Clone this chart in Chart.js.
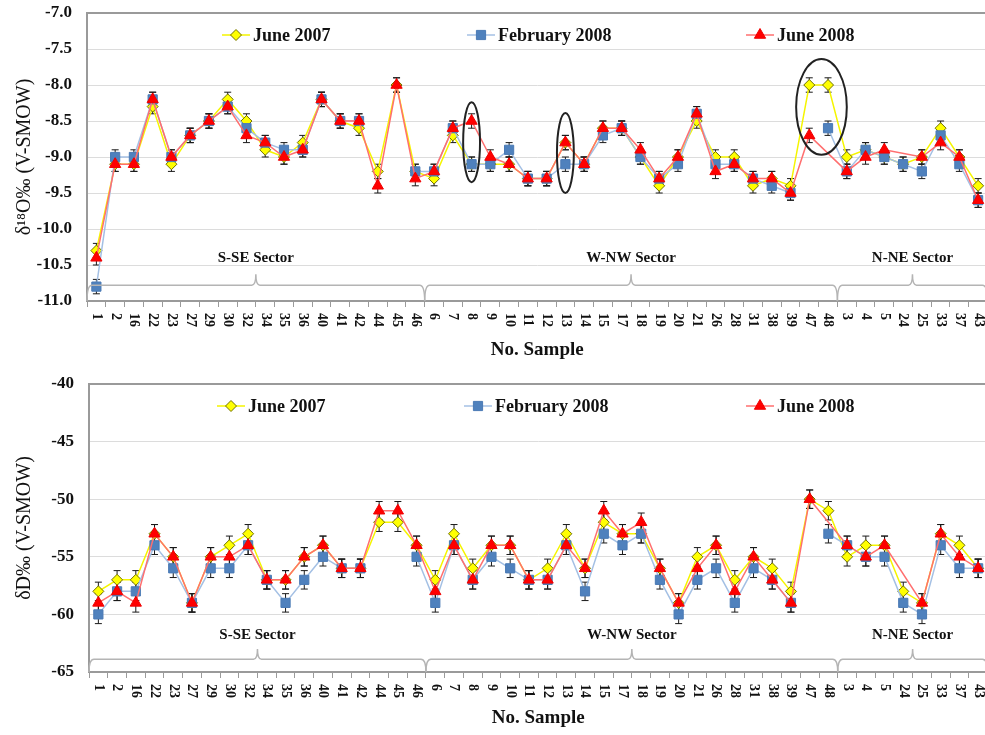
<!DOCTYPE html>
<html lang="en">
<head>
  <meta charset="UTF-8">
  <title>Isotopic composition by sample</title>
  <script src="https://cdn.jsdelivr.net/npm/chart.js"></script>
  <style>
    html, body { margin: 0; padding: 0; background: #fff; overflow: hidden; }
    .panel { position: absolute; left: 0; width: 995px; }
    #topPanel { top: 0; height: 367px; }
    #bottomPanel { top: 367px; height: 368px; }
  </style>
</head>
<body>
  <div id="topPanel" class="panel"><canvas id="o18Chart"></canvas></div>
  <div id="bottomPanel" class="panel"><canvas id="dChart"></canvas></div>

  <script>
    // Samples in the order they appear on the x axis
    const samples = ['1', '2', '16', '22', '23', '27', '29', '30', '32', '34', '35', '36', '40', '41', '42', '44', '45', '46',
      '6', '7', '8', '9', '10', '11', '12', '13', '14', '15', '17', '18', '19', '20', '21', '26', '28', '31', '38', '39', '47', '48',
      '3', '4', '5', '24', '25', '33', '37', '43'];
    const seriesNames = ['June 2007', 'February 2008', 'June 2008'];

    // delta 18O (permil V-SMOW)
    const o18Jun2007 = [-10.3, -9.1, -9.1, -8.3, -9.1, -8.7, -8.5, -8.2, -8.5, -8.9, -9.0, -8.8, -8.2, -8.5, -8.6, -9.2, -8.0, -9.2,
      -9.3, -8.7, -9.1, -9.1, -9.1, -9.3, -9.3, -8.8, -9.1, -8.6, -8.6, -9.0, -9.4, -9.0, -8.5, -9.0, -9.0, -9.4, -9.3, -9.4, -8.0, -8.0,
      -9.0, -8.9, -9.0, -9.1, -9.0, -8.6, -9.0, -9.4];
    const o18Feb2008 = [-10.8, -9.0, -9.0, -8.2, -9.0, -8.7, -8.5, -8.3, -8.6, -8.8, -8.9, -8.9, -8.2, -8.5, -8.5, null, null, -9.2,
      -9.2, -8.6, -9.1, -9.1, -8.9, -9.3, -9.3, -9.1, -9.1, -8.7, -8.6, -9.0, -9.3, -9.1, -8.4, -9.1, -9.1, -9.3, -9.4, -9.5, null, -8.6,
      -9.2, -8.9, -9.0, -9.1, -9.2, -8.7, -9.1, -9.6];
    const o18Jun2008 = [-10.4, -9.1, -9.1, -8.2, -9.0, -8.7, -8.5, -8.3, -8.7, -8.8, -9.0, -8.9, -8.2, -8.5, -8.5, -9.4, -8.0, -9.3,
      -9.2, -8.6, -8.5, -9.0, -9.1, -9.3, -9.3, -8.8, -9.1, -8.6, -8.6, -8.9, -9.3, -9.0, -8.4, -9.2, -9.1, -9.3, -9.3, -9.5, -8.7, null,
      -9.2, -9.0, -8.9, null, -9.0, -8.8, -9.0, -9.6];
    const o18Axis = [-11, -7, 0.5];

    // delta D (permil V-SMOW)
    const dJun2007 = [-58, -57, -57, -53, -55, -59, -55, -54, -53, -57, -57, -55, -54, -56, -56, -52, -52, -54,
      -57, -53, -56, -54, -54, -57, -56, -53, -56, -52, -53, -53, -56, -59, -55, -54, -57, -55, -56, -58, -50, -51,
      -55, -54, -54, -58, -59, -53, -54, -56];
    const dFeb2008 = [-60, -58, -58, -54, -56, -59, -56, -56, -54, -57, -59, -57, -55, -56, -56, null, null, -55,
      -59, -54, -57, -55, -56, -57, -57, -54, -58, -53, -54, -53, -57, -60, -57, -56, -59, -56, -57, -59, null, -53,
      -54, -55, -55, -59, -60, -54, -56, -56];
    const dJun2008 = [-59, -58, -59, -53, -55, -59, -55, -55, -54, -57, -57, -55, -54, -56, -56, -51, -51, -54,
      -58, -54, -57, -54, -54, -57, -57, -54, -56, -51, -53, -52, -56, -59, -56, -54, -58, -55, -57, -59, -50, null,
      -54, -55, -54, null, -59, -53, -55, -56];
    const dAxis = [-65, -40, 5];

    const sectors = [
      { name: 'S-SE Sector', first: '1', last: '46' },
      { name: 'W-NW Sector', first: '6', last: '48' },
      { name: 'N-NE Sector', first: '3', last: '43' }
    ];

    const serif = "'Liberation Serif', 'Times New Roman', serif";
    Chart.defaults.font.family = serif;

    const styles = [
      { line: '#f5f500', fill: '#ffff00', edge: '#707000', shape: 'rectRot', radius: 5.5, span: true },
      { line: '#a4c0e4', fill: '#4f81bd', edge: '#4a7ab5', shape: 'rect', radius: 6.5, span: false },
      { line: '#ff6f6f', fill: '#ff0000', edge: '#ee0000', shape: 'triangle', radius: 6.5, span: true }
    ];

    function drawMarker(ctx, s, x, y) {
      const r = s.radius;
      ctx.beginPath();
      if (s.shape === 'rectRot') {
        ctx.moveTo(x, y - r); ctx.lineTo(x + r, y); ctx.lineTo(x, y + r); ctx.lineTo(x - r, y);
      } else if (s.shape === 'rect') {
        const h = r * Math.SQRT1_2;
        ctx.rect(x - h, y - h, 2 * h, 2 * h);
      } else {
        for (let k = 0; k < 3; k++) {
          const a = k * 2 * Math.PI / 3;
          ctx[k ? 'lineTo' : 'moveTo'](x + Math.sin(a) * r, y - Math.cos(a) * r);
        }
      }
      ctx.closePath();
      ctx.fillStyle = s.fill; ctx.fill();
      ctx.lineWidth = 1; ctx.strokeStyle = s.edge; ctx.stroke();
    }

    // error bars, ellipses, sector braces, legend and rotated sample labels
    function makeExtras(p) {
      return {
        id: 'extras',
        beforeDatasetsDraw(chart) {
          const ctx = chart.ctx, ys = chart.scales.y;
          ctx.save();
          ctx.strokeStyle = '#1a1a1a';
          ctx.lineWidth = 1;
          chart.data.datasets.forEach((ds, i) => {
            chart.getDatasetMeta(i).data.forEach((pt, j) => {
              const v = ds.data[j];
              if (v == null) return;
              const y1 = ys.getPixelForValue(v + p.err), y2 = ys.getPixelForValue(v - p.err);
              ctx.beginPath();
              ctx.moveTo(pt.x, y1); ctx.lineTo(pt.x, y2);
              ctx.moveTo(pt.x - 3.5, y1); ctx.lineTo(pt.x + 3.5, y1);
              ctx.moveTo(pt.x - 3.5, y2); ctx.lineTo(pt.x + 3.5, y2);
              ctx.stroke();
            });
          });
          ctx.restore();
        },
        afterDatasetsDraw(chart) {
          const ctx = chart.ctx, xs = chart.scales.x, ys = chart.scales.y, area = chart.chartArea;
          ctx.save();

          // ellipses
          ctx.strokeStyle = '#222';
          ctx.lineWidth = 2;
          (p.ellipses || []).forEach(e => {
            const x0 = xs.getPixelForValue(e.x[0]), x1 = xs.getPixelForValue(e.x[1]);
            const y0 = ys.getPixelForValue(e.y[0]), y1 = ys.getPixelForValue(e.y[1]);
            ctx.beginPath();
            ctx.ellipse((x0 + x1) / 2, (y0 + y1) / 2, Math.abs(x1 - x0) / 2, Math.abs(y1 - y0) / 2, 0, 0, 2 * Math.PI);
            ctx.stroke();
          });

          // sector braces
          const yB = ys.getPixelForValue(p.brace[0]);
          const yPeak = ys.getPixelForValue(p.brace[1]);
          const yLabel = ys.getPixelForValue(p.brace[2]);
          const yAxis = area.bottom;
          ctx.strokeStyle = '#b4b4b4';
          ctx.lineWidth = 1.5;
          ctx.fillStyle = '#111';
          ctx.font = 'bold 15px ' + serif;
          ctx.textAlign = 'center';
          ctx.textBaseline = 'middle';
          sectors.forEach(s => {
            const x0 = xs.getPixelForValue(samples.indexOf(s.first) - 0.5);
            const x1 = Math.min(xs.getPixelForValue(samples.indexOf(s.last) + 0.5), area.right);
            const xm = (x0 + x1) / 2;
            ctx.beginPath();
            ctx.moveTo(x0, yAxis);
            ctx.quadraticCurveTo(x0, yB, x0 + 5, yB);
            ctx.lineTo(xm - 4, yB);
            ctx.quadraticCurveTo(xm, yB, xm, yPeak);
            ctx.quadraticCurveTo(xm, yB, xm + 4, yB);
            ctx.lineTo(x1 - 5, yB);
            ctx.quadraticCurveTo(x1, yB, x1, yAxis);
            ctx.stroke();
            ctx.fillText(s.name, xm, yLabel);
          });

          // legend inside the plot
          const ly = area.top + p.legendDy;
          ctx.font = 'bold 18px ' + serif;
          ctx.textAlign = 'left';
          chart.data.datasets.forEach((ds, i) => {
            const s = styles[i];
            const mx = area.left + p.legendX[i];
            ctx.strokeStyle = s.line;
            ctx.lineWidth = 1.5;
            ctx.beginPath();
            ctx.moveTo(mx - 14, ly); ctx.lineTo(mx + 14, ly);
            ctx.stroke();
            drawMarker(ctx, s, mx, ly);
            ctx.fillStyle = '#111';
            ctx.fillText(ds.label, mx + 17, ly + 1);
          });
          ctx.restore();
        },
        afterDraw(chart) {
          const ctx = chart.ctx, xs = chart.scales.x;
          ctx.save();
          ctx.font = 'bold 14px ' + serif;
          ctx.fillStyle = '#111';
          ctx.textAlign = 'left';
          ctx.textBaseline = 'middle';
          chart.data.labels.forEach((lab, i) => {
            ctx.save();
            ctx.translate(xs.getPixelForValue(i), chart.chartArea.bottom + 12);
            ctx.rotate(Math.PI / 2);
            ctx.fillText(lab, 0, 0);
            ctx.restore();
          });
          ctx.restore();
        }
      };
    }

    function buildPanel(canvasId, p) {
      const [yMin, yMax, step] = p.axis;
      new Chart(document.getElementById(canvasId), {
        type: 'line',
        data: {
          labels: samples,
          datasets: p.series.map((vals, i) => ({
            label: seriesNames[i],
            data: vals,
            order: 3 - i,
            spanGaps: styles[i].span,
            tension: 0,
            borderColor: styles[i].line,
            borderWidth: 1.5,
            pointStyle: styles[i].shape,
            pointRadius: styles[i].radius,
            pointBackgroundColor: styles[i].fill,
            pointBorderColor: styles[i].edge,
            pointBorderWidth: 1
          }))
        },
        options: {
          responsive: true,
          maintainAspectRatio: false,
          animation: false,
          layout: { padding: { top: p.top, left: 0, right: 0, bottom: 0 } },
          plugins: { legend: { display: false }, tooltip: { enabled: false } },
          scales: {
            x: {
              type: 'category',
              offset: true,
              grid: { offset: true, drawOnChartArea: false, drawTicks: true, tickLength: 6, color: '#9a9a9a' },
              border: { display: true, color: '#9a9a9a', width: 2 },
              ticks: { display: false, autoSkip: false },
              title: { display: true, text: 'No. Sample', color: '#111', font: { size: 19, weight: 'bold' }, padding: { top: 4, bottom: 6 } },
              afterFit: s => { s.height = p.xHeight; s.paddingLeft = 0; s.paddingRight = 0; }
            },
            y: {
              min: yMin,
              max: yMax,
              ticks: {
                stepSize: step,
                padding: 15,
                color: '#111',
                font: { size: 17, weight: 'bold' },
                callback: v => v.toFixed(p.decimals)
              },
              grid: {
                drawTicks: false,
                color: c => c.tick && c.tick.value === yMax ? '#9a9a9a' : '#dcdcdc',
                lineWidth: c => c.tick && c.tick.value === yMax ? 2 : 1
              },
              border: { display: true, color: '#9a9a9a', width: 2 },
              title: { display: true, text: p.yTitle, color: '#111', font: { size: 20 }, padding: { top: 13, bottom: 0 } },
              afterFit: s => { s.width = p.axisLeft; s.paddingTop = 0; s.paddingBottom = 0; }
            }
          }
        },
        plugins: [makeExtras(p)]
      });
    }

    // delta 18O panel
    buildPanel('o18Chart', {
      series: [o18Jun2007, o18Feb2008, o18Jun2008],
      axis: o18Axis,
      decimals: 1,
      err: 0.1,
      yTitle: 'δ¹⁸O‰ (V-SMOW)',
      top: 13, xHeight: 66, axisLeft: 87,
      legendDy: 22, legendX: [149, 394, 673],
      brace: [-10.78, -10.63, -10.41],
      ellipses: [
        { x: [19.55, 20.45], y: [-9.35, -8.24] },
        { x: [24.55, 25.45], y: [-9.5, -8.39] },
        { x: [37.3, 40.0], y: [-8.97, -7.64] }
      ]
    });

    // delta D panel
    buildPanel('dChart', {
      series: [dJun2007, dFeb2008, dJun2008],
      axis: dAxis,
      decimals: 0,
      err: 0.8,
      yTitle: 'δD‰ (V-SMOW)',
      top: 17, xHeight: 63, axisLeft: 89,
      legendDy: 22, legendX: [142, 389, 671],
      brace: [-63.9, -63.0, -61.8],
      ellipses: []
    });
  </script>
</body>
</html>
